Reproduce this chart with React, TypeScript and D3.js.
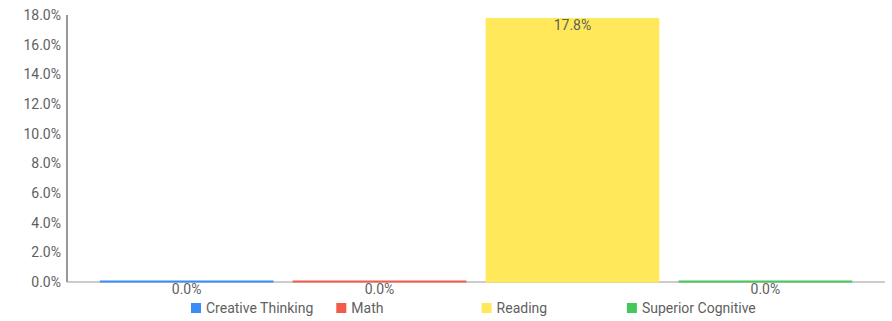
import * as d3 from "d3";

const categories = ["Creative Thinking", "Math", "Reading", "Superior Cognitive"];
const values = [0.0, 0.0, 17.8, 0.0];
const colors = ["#3a8cf6", "#f35c4c", "#ffe95a", "#46c75a"];
const yTicks = [0, 2, 4, 6, 8, 10, 12, 14, 16, 18];

const W = 892;
const H = 321;
const m = { top: 15, left: 67, right: 7, bottom: 39 };
const font = "Roboto, sans-serif";

const App = () => {
  const x = d3
    .scaleBand<string>()
    .domain(categories)
    .range([m.left, W - m.right])
    .paddingInner(0.1)
    .paddingOuter(0.17);
  const y = d3
    .scaleLinear()
    .domain([0, 18])
    .range([H - m.bottom, m.top]);
  const base = y(0);

  return (
    <svg
      width={W}
      height={H}
      style={{ position: "absolute", left: 0, top: 0, fontFamily: font }}
    >
      {yTicks.map((t) => (
        <text
          key={t}
          x={m.left - 6}
          y={y(t)}
          dy="0.35em"
          textAnchor="end"
          fontSize={14}
          fill="#5f5f5f"
        >
          {d3.format(".1f")(t) + "%"}
        </text>
      ))}
      <line x1={m.left} x2={m.left} y1={m.top} y2={base} stroke="#333" />
      <line x1={m.left} x2={W - m.right} y1={base} y2={base} stroke="#999" />
      {categories.map((c, i) => {
        const v = values[i];
        const top = Math.min(y(v), base - 1.5);
        return (
          <g key={c}>
            <rect
              x={x(c)}
              y={top}
              width={x.bandwidth()}
              height={base + 0.5 - top}
              fill={colors[i]}
            />
            <text
              x={(x(c) as number) + x.bandwidth() / 2}
              y={v > 0 ? top + 7 : base + 7}
              dy="0.35em"
              textAnchor="middle"
              fontSize={14}
              fill="#5f5f5f"
            >
              {d3.format(".1f")(v) + "%"}
            </text>
          </g>
        );
      })}
      {categories.map((c, i) => (
        <g key={c} transform={`translate(${191 + i * 145.3},308)`}>
          <rect x={0} y={-5} width={10} height={10} fill={colors[i]} />
          <text x={15} y={0} dy="0.35em" fontSize={14} fill="#5f5f5f">
            {c}
          </text>
        </g>
      ))}
    </svg>
  );
};

export default App;
